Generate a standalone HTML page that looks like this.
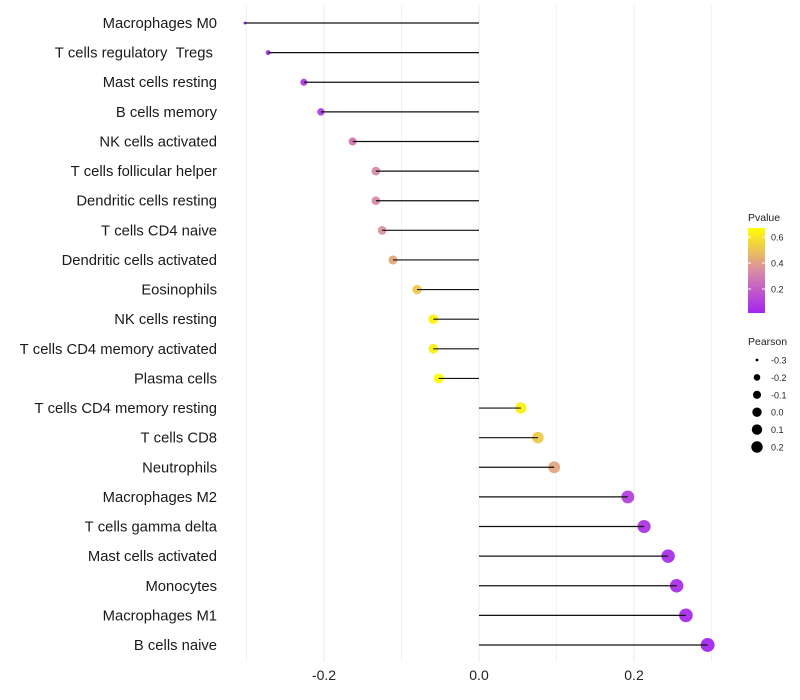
<!DOCTYPE html>
<html><head><meta charset="utf-8"><style>
body{margin:0;background:#fff;}
svg{display:block;font-family:"Liberation Sans",sans-serif;}
text{white-space:pre;}
</style></head><body>
<svg id="chart" width="800" height="700">
<g id="grid"></g><g id="marks"></g><g id="labels"></g><g id="legend"></g>
</svg>
<script>
const categories=["Macrophages M0","T cells regulatory  Tregs ","Mast cells resting","B cells memory","NK cells activated","T cells follicular helper","Dendritic cells resting","T cells CD4 naive","Dendritic cells activated","Eosinophils","NK cells resting","T cells CD4 memory activated","Plasma cells","T cells CD4 memory resting","T cells CD8","Neutrophils","Macrophages M2","T cells gamma delta","Mast cells activated","Monocytes","Macrophages M1","B cells naive"];
const pearson=[-0.302,-0.272,-0.226,-0.204,-0.163,-0.133,-0.133,-0.125,-0.111,-0.080,-0.059,-0.059,-0.052,0.054,0.076,0.097,0.192,0.213,0.244,0.255,0.267,0.295];
const pvalues=[0.02,0.05,0.08,0.10,0.28,0.34,0.34,0.36,0.42,0.52,0.63,0.63,0.67,0.63,0.52,0.42,0.11,0.07,0.05,0.05,0.04,0.02];
const xTicks=[-0.2,0.0,0.2];
const xMinor=[-0.3,-0.1,0.1,0.3];
const pTicks=[0.2,0.4,0.6];
const sizeTicks=[-0.3,-0.2,-0.1,0.0,0.1,0.2];

const NS="http://www.w3.org/2000/svg";
const x=v=>479+v*775;
const y=i=>23+i*(622/21);
function r(v){
  if(v<-0.226){const a=2.25+(v+0.302)/0.076*(12.25-2.25);return Math.sqrt(Math.max(2.25,a));}
  return Math.sqrt(12.25+70*(v+0.226));
}
const pLo=0.015,pHi=0.67;
function col(p){
  const t=Math.max(0,Math.min(1,(p-pLo)/(pHi-pLo)));
  const s=[[164,36,240],[218,140,165],[255,255,0]];
  let a,b,u;
  if(t<0.5){a=s[0];b=s[1];u=t/0.5;}else{a=s[1];b=s[2];u=(t-0.5)/0.5;}
  return `rgb(${a.map((c,k)=>Math.round(c+(b[k]-c)*u)).join(",")})`;
}
function el(tag,attrs,parent){const e=document.createElementNS(NS,tag);for(const k in attrs)e.setAttribute(k,attrs[k]);parent.appendChild(e);return e;}
const grid=document.getElementById('grid'),marks=document.getElementById('marks'),labels=document.getElementById('labels'),legend=document.getElementById('legend');
xMinor.forEach(v=>{const l=el('line',{x1:x(v),x2:x(v),y1:5,y2:662,stroke:'#f2f2f2','stroke-width':1},grid);

});
xTicks.forEach(v=>{const l=el('line',{x1:x(v),x2:x(v),y1:5,y2:662,stroke:'#ebebeb','stroke-width':1},grid);


const t=el('text',{x:x(v),y:680,'text-anchor':'middle','font-size':14,fill:'#222'},labels);t.textContent=v===0?'0.0':v.toFixed(1);

});
categories.forEach((c,i)=>{
  const t=el('text',{x:217,y:y(i)+5,'text-anchor':'end','font-size':14.8,fill:'#1a1a1a'},labels);
  t.textContent=c.replace(/ /g,'\u00a0');
  
  
  const p=el('circle',{cx:x(pearson[i]),cy:y(i),r:r(pearson[i]),fill:col(pvalues[i]),'fill-opacity':0.95},marks);
  
  
  const s=el('line',{x1:x(0),x2:x(pearson[i]),y1:y(i),y2:y(i),stroke:'#111','stroke-width':1.2},marks);
  
  
});
let t=el('text',{x:748,y:221,'font-size':10.5,fill:'#222'},legend);t.textContent='Pvalue';


const defs=el('defs',{},legend);
const g=el('linearGradient',{id:'pg',x1:0,y1:1,x2:0,y2:0},defs);
for(let k=0;k<=10;k++){el('stop',{offset:k/10,'stop-color':col(pLo+(pHi-pLo)*k/10)},g);}
const bar=el('rect',{x:748,y:228,width:17,height:85,fill:'url(#pg)'},legend);


const py=p=>313-(p-pLo)/(pHi-pLo)*85;
pTicks.forEach(p=>{el('line',{x1:748,x2:751,y1:py(p),y2:py(p),stroke:'#fff'},legend);el('line',{x1:762,x2:765,y1:py(p),y2:py(p),stroke:'#fff'},legend);
const tt=el('text',{x:771,y:py(p)+3.5,'font-size':9,fill:'#222'},legend);tt.textContent=p.toFixed(1);

});
t=el('text',{x:748,y:345,'font-size':10.5,fill:'#222'},legend);t.textContent='Pearson';


sizeTicks.forEach((v,k)=>{const cy=360+k*17.4;
const c=el('circle',{cx:757,cy:cy,r:r(v)*0.88,fill:'#000'},legend);


const tt=el('text',{x:771,y:cy+3.5,'font-size':9,fill:'#222'},legend);tt.textContent=v.toFixed(1);

});
</script>
</body></html>
